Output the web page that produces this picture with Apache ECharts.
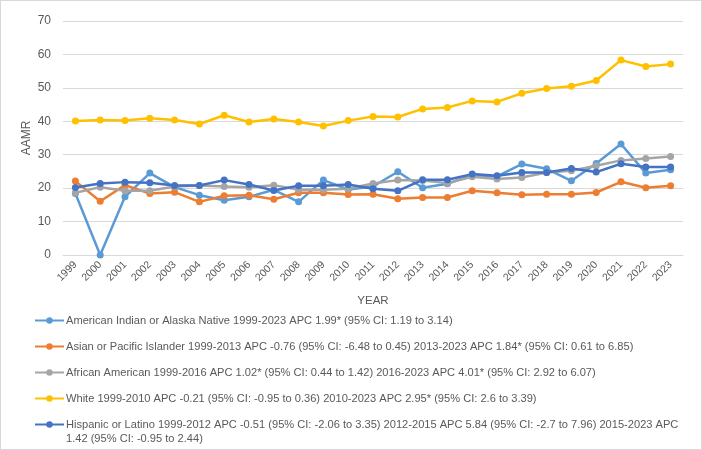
<!DOCTYPE html>
<html>
<head>
<meta charset="utf-8">
<script src="https://cdn.jsdelivr.net/npm/echarts@6/dist/echarts.min.js"></script>
<style>
  html, body { margin: 0; padding: 0; background: #fff; }
  #main { width: 700px; height: 448px; border: 1px solid #d9d9d9; }
</style>
</head>
<body>
<div id="main"></div>
<script>
// 年份
var years = ['1999','2000','2001','2002','2003','2004','2005','2006','2007','2008','2009','2010','2011',
             '2012','2013','2014','2015','2016','2017','2018','2019','2020','2021','2022','2023'];

var aian = [18.4, 0, 17.4, 24.5, 20.3, 17.9, 16.4, 17.4, 19.5, 15.9, 22.4, 19.6, 20.5,
            24.9, 20.1, 21.3, 23.9, 23.5, 27.2, 25.8, 22.2, 27.4, 33.2, 24.5, 25.5];
var asian = [22.1, 16.1, 20.9, 18.4, 18.8, 15.9, 17.7, 17.9, 16.7, 18.6, 18.6, 18.1, 18.2,
             16.8, 17.2, 17.2, 19.2, 18.6, 18.0, 18.2, 18.2, 18.7, 21.9, 20.1, 20.7];
var black = [18.6, 20.3, 19.2, 19.2, 20.5, 20.8, 20.5, 20.3, 20.9, 19.5, 19.5, 19.8, 21.4,
             22.4, 22.3, 21.5, 23.4, 22.7, 23.2, 24.7, 25.2, 26.7, 28.3, 28.9, 29.5];
var white = [40.1, 40.4, 40.2, 40.9, 40.4, 39.2, 41.8, 39.8, 40.7, 39.8, 38.6, 40.2, 41.4,
             41.3, 43.7, 44.1, 46.1, 45.8, 48.4, 49.8, 50.5, 52.2, 58.3, 56.4, 57.1];
var hisp = [20.2, 21.4, 21.8, 21.6, 20.8, 20.8, 22.4, 21.1, 19.3, 20.7, 20.7, 21.1, 19.8,
            19.2, 22.5, 22.5, 24.2, 23.7, 24.7, 24.7, 25.9, 24.8, 27.3, 26.3, 26.3];

var names = [
    'American Indian or Alaska Native 1999-2023 APC 1.99* (95% CI: 1.19 to 3.14)',
    'Asian or Pacific Islander 1999-2013 APC -0.76 (95% CI: -6.48 to 0.45) 2013-2023 APC 1.84* (95% CI: 0.61 to 6.85)',
    'African American 1999-2016 APC 1.02* (95% CI: 0.44 to 1.42) 2016-2023 APC 4.01* (95% CI: 2.92 to 6.07)',
    'White 1999-2010 APC -0.21 (95% CI: -0.95 to 0.36) 2010-2023 APC 2.95* (95% CI: 2.6 to 3.39)',
    'Hispanic or Latino 1999-2012 APC -0.51 (95% CI: -2.06 to 3.35) 2012-2015 APC 5.84 (95% CI: -2.7 to 7.96) 2015-2023 APC 1.42 (95% CI: -0.95 to 2.44)'
];
var colors = ['#5B9BD5', '#ED7D31', '#A5A5A5', '#FFC000', '#4472C4'];
var values = [aian, asian, black, white, hisp];
var legendTops = [309, 335, 361, 387, 413];

var FONT = 'Liberation Sans, Arial, sans-serif';
var myChart = echarts.init(document.getElementById('main'));

var series = [];
var legends = [];
for (var i = 0; i < names.length; i++) {
    series.push({
        name: names[i],
        type: 'line',
        data: values[i],
        symbol: 'circle',
        symbolSize: 7,
        lineStyle: { width: 2.5, color: colors[i] },
        itemStyle: { color: colors[i] }
    });
    legends.push({
        left: 28,
        top: legendTops[i],
        itemWidth: 29,
        itemHeight: 8,
        itemGap: 0,
        data: [names[i]],
        formatter: function (name) {
            // 最后一项第二行单独画
            return name.replace(' 1.42 (95% CI: -0.95 to 2.44)', '');
        },
        textStyle: { color: '#595959', fontSize: 11.1, fontFamily: FONT, padding: [0, 0, 0, -3] }
    });
}

var option = {
    backgroundColor: '#fff',
    animation: false,
    textStyle: { fontFamily: FONT },
    grid: { left: 62, right: 18, top: 20, bottom: 194 },
    legend: legends,
    graphic: [{
        type: 'text',
        left: 65,
        top: 432,
        style: { text: '1.42 (95% CI: -0.95 to 2.44)', fill: '#595959', fontSize: 11.1, fontFamily: FONT }
    }],
    xAxis: {
        type: 'category',
        data: years,
        name: 'YEAR',
        nameLocation: 'middle',
        nameGap: 40,
        nameMoveOverlap: false,
        nameTextStyle: { color: '#595959', fontSize: 11.5 },
        axisLine: { lineStyle: { color: '#d9d9d9' } },
        axisTick: { show: false },
        axisLabel: { rotate: 45, color: '#595959', fontSize: 10.5, interval: 0, margin: 8 }
    },
    yAxis: {
        type: 'value',
        min: 0,
        max: 70,
        interval: 10,
        name: 'AAMR',
        nameLocation: 'middle',
        nameGap: 30,
        nameMoveOverlap: false,
        nameTextStyle: { color: '#595959', fontSize: 12 },
        axisLine: { show: false },
        axisTick: { show: false },
        axisLabel: { color: '#595959', fontSize: 12, margin: 12 },
        splitLine: { lineStyle: { color: '#d9d9d9' } }
    },
    series: series
};
myChart.setOption(option);
</script>
</body>
</html>
